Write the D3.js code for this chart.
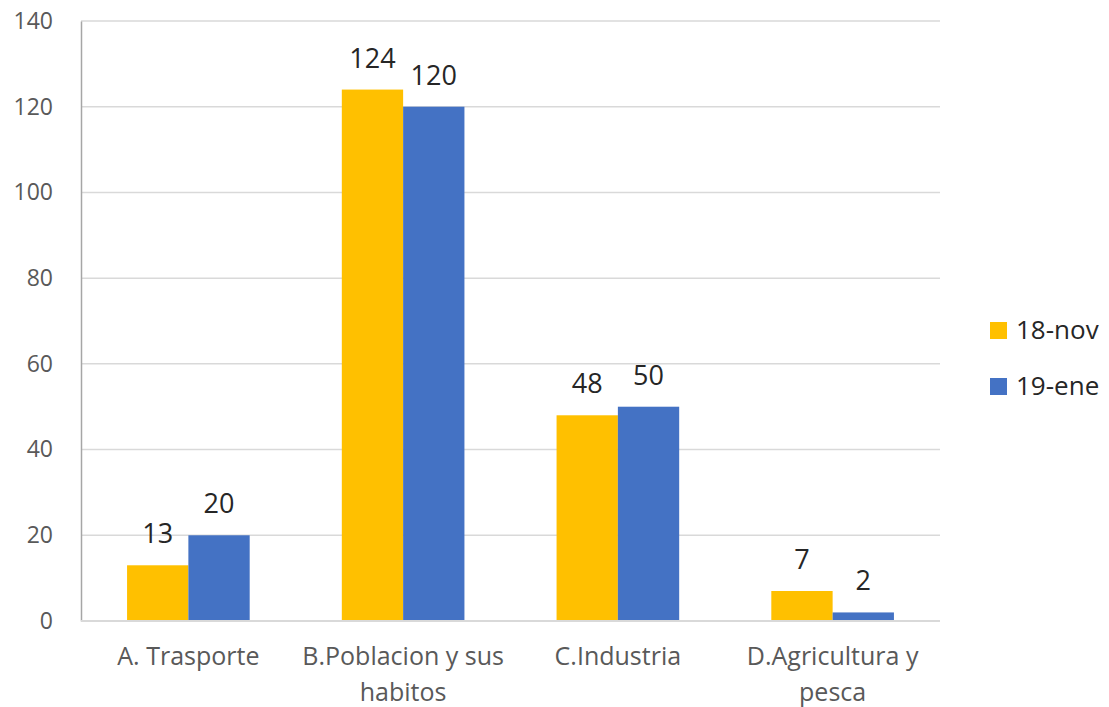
<!DOCTYPE html>
<html><head><meta charset="utf-8">
<script src="https://cdn.jsdelivr.net/npm/d3@7"></script>
<style>body{margin:0;background:#fff;} text{font-family:"Open Sans",sans-serif;}</style>
</head><body>
<svg id="c" width="1109" height="707"></svg>
<script>
const categories = [["A. Trasporte"], ["B.Poblacion y sus", "habitos"], ["C.Industria"], ["D.Agricultura y", "pesca"]];
const seriesNames = ["18-nov", "19-ene"];
const nov18 = [13, 124, 48, 7];
const ene19 = [20, 120, 50, 2];
const colors = ["#FFC000", "#4472C4"];
const yTicks = [0, 20, 40, 60, 80, 100, 120, 140];

(function () {
const svg = d3.select("#c");
const pLeft = 81, pRight = 940, pTop = 21, pBottom = 621;
const keys = categories.map((c, i) => i);
const x0 = d3.scaleBand().domain(keys).range([pLeft, pRight]).paddingInner(0.429).paddingOuter(0.2145);
const x1 = d3.scaleBand().domain([0, 1]).range([0, x0.bandwidth()]);
const y = d3.scaleLinear().domain([0, 140]).range([pBottom, pTop]);

svg.append("g").selectAll("line").data(yTicks.filter(t => t > 0)).join("line")
  .attr("x1", pLeft).attr("x2", pRight).attr("y1", d => y(d)).attr("y2", d => y(d))
  .attr("stroke", "#d9d9d9").attr("stroke-width", 1.5);

const yAxis = d3.axisLeft(y).tickValues(yTicks).tickSize(0).tickPadding(28);
const ya = svg.append("g").attr("transform", `translate(${pLeft},0)`).call(yAxis);
ya.select(".domain").attr("stroke", "#a6a6a6").attr("stroke-width", 1.5);
ya.selectAll("text").attr("font-size", 23).attr("fill", "#595959").attr("font-family", "Open Sans");

const data = [nov18, ene19];
const g = svg.append("g");
data.forEach((vals, s) => {
  g.selectAll(null).data(vals).join("rect")
    .attr("x", (d, i) => x0(i) + x1(s))
    .attr("width", x1.bandwidth())
    .attr("y", d => y(d))
    .attr("height", d => y(0) - y(d))
    .attr("fill", colors[s]);
  g.selectAll(null).data(vals).join("text")
    .attr("x", (d, i) => x0(i) + x1(s) + x1.bandwidth() / 2)
    .attr("y", d => y(d) - 22)
    .attr("text-anchor", "middle")
    .attr("font-size", 27).attr("fill", "#262626")
    .text(d => d);
});

svg.append("line").attr("x1", pLeft).attr("x2", pRight).attr("y1", y(0)).attr("y2", y(0))
  .attr("stroke", "#d9d9d9").attr("stroke-width", 2);

const xl = svg.append("g");
categories.forEach((lines, i) => {
  const cx = x0(i) + x0.bandwidth() / 2;
  const t = xl.append("text").attr("x", cx).attr("y", 665)
    .attr("text-anchor", "middle").attr("font-size", 25).attr("fill", "#595959");
  lines.forEach((ln, j) => t.append("tspan").attr("x", cx).attr("dy", j === 0 ? 0 : 36).text(ln));
});

const leg = svg.append("g");
seriesNames.forEach((n, s) => {
  leg.append("rect").attr("x", 990).attr("y", 322 + s * 56).attr("width", 17).attr("height", 17).attr("fill", colors[s]);
  leg.append("text").attr("x", 1016).attr("y", 339 + s * 56).attr("font-size", 26).attr("fill", "#262626").text(n);
});
})();
</script>
</body></html>
